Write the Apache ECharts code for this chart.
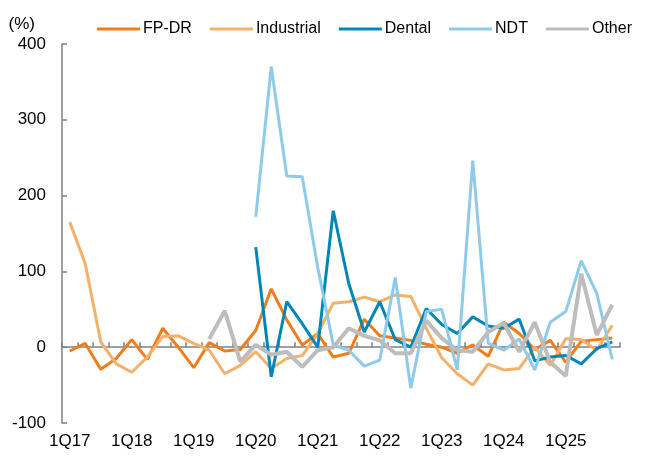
<!DOCTYPE html>
<html>
<head>
<meta charset="utf-8">
<script src="https://cdn.jsdelivr.net/npm/echarts@6/dist/echarts.min.js"></script>
<style>
  html, body { margin: 0; padding: 0; background: #fff; }
  #main { width: 650px; height: 459px; }
</style>
</head>
<body>
<div id="main"></div>
<script>
const quarters = [
    "1Q17", "2Q17", "3Q17", "4Q17", "1Q18", "2Q18", "3Q18", "4Q18",
    "1Q19", "2Q19", "3Q19", "4Q19", "1Q20", "2Q20", "3Q20", "4Q20",
    "1Q21", "2Q21", "3Q21", "4Q21", "1Q22", "2Q22", "3Q22", "4Q22",
    "1Q23", "2Q23", "3Q23", "4Q23", "1Q24", "2Q24", "3Q24", "4Q24",
    "1Q25", "2Q25", "3Q25", "4Q25"
];
const fpdr = [-5, 5, -29, -15, 10, -16, 25, 0, -27, 6, -5, -3, 22, 77, 36, 3, 18, -13, -8, 37, 15, 12, 9, 4, 0, -8, 3, -12, 33, 18, -3, 9, -20, 8, 10, 12];
const industrial = [165, 110, 7, -22, -33, -13, 14, 15, 5, -4, -35, -24, -6, -28, -15, -11, 18, 58, 60, 66, 60, 69, 67, 25, -14, -35, -50, -22, -30, -28, 0, -24, 11, 10, -4, 29];
const dental = [null, null, null, null, null, null, null, null, null, null, null, null,
    132, -39, 60, 31, 0, 180, 84, 20, 60, 10, 0, 51, 30, 18, 40, 28, 25, 37, -18, -13, -11, -22, -2, 7];
const ndt = [null, null, null, null, null, null, null, null, null, null, null, null,
    172, 370, 226, 225, 105, 3, -4, -25, -17, 92, -54, 47, 50, -30, 246, 5, -4, 11, -30, 33, 47, 114, 71, -16];
const other = [null, null, null, null, null, null, null, null, null,
    11, 48, -19, 3, -10, -6, -26, -4, 0, 25, 15, 9, -8, -8, 35, 12, -4, -6, 20, 32, -6, 33, -20, -38, 97, 16, 56];
const yTicks = [-100, 0, 100, 200, 300, 400];

const font = "'Liberation Sans', Arial, sans-serif";
const axisGrey = "#808080";

const chart = echarts.init(document.getElementById("main"), null, { renderer: "canvas" });

function lineSeries(name, data, color, width) {
    return {
        name: name,
        type: "line",
        data: data,
        symbol: "none",
        connectNulls: false,
        lineStyle: { color: color, width: width },
        itemStyle: { color: color },
        emphasis: { disabled: true }
    };
}

chart.setOption({
    animation: false,
    textStyle: { fontFamily: font },
    legend: {
        top: 16,
        left: 92,
        icon: "rect",
        itemWidth: 43,
        itemHeight: 3,
        itemGap: 18,
        textStyle: { fontFamily: font, fontSize: 16, color: "#000", padding: [0, 0, 0, -2] },
        data: ["FP-DR", "Industrial", "Dental", "NDT", "Other"]
    },
    grid: { left: 62, right: 30, top: 44, bottom: 36 },
    xAxis: [
        {
            type: "category",
            data: quarters,
            position: "bottom",
            boundaryGap: true,
            axisLine: { show: false, onZero: false },
            axisTick: { show: false },
            axisLabel: { interval: 3, margin: 10, fontFamily: font, fontSize: 17, color: "#000" }
        },
        {
            type: "category",
            data: quarters,
            position: "bottom",
            boundaryGap: true,
            axisLine: { show: true, onZero: true, lineStyle: { color: axisGrey, width: 1.5 } },
            axisTick: { show: true, inside: true, length: 5, interval: 0, lineStyle: { color: axisGrey, width: 1.5 } },
            axisLabel: { show: false }
        }
    ],
    yAxis: {
        type: "value",
        min: yTicks[0],
        max: yTicks[yTicks.length - 1],
        interval: 100,
        name: "(%)",
        nameLocation: "end",
        nameGap: 11,
        nameTextStyle: { fontFamily: font, fontSize: 17, color: "#000", align: "right", padding: [0, 27, 0, 0] },
        axisLine: { show: true, lineStyle: { color: axisGrey, width: 1.5 } },
        axisTick: { show: true, inside: true, length: 5, lineStyle: { color: axisGrey, width: 1.5 } },
        splitLine: { show: false },
        axisLabel: { margin: 16, fontFamily: font, fontSize: 17, color: "#000" }
    },
    series: [
        lineSeries("FP-DR", fpdr, "#F07D1A", 3),
        lineSeries("Industrial", industrial, "#F5B06A", 3),
        lineSeries("Dental", dental, "#0086B8", 3),
        lineSeries("NDT", ndt, "#8ECBEA", 3),
        lineSeries("Other", other, "#BDBDBD", 4)
    ]
});
</script>
</body>
</html>
